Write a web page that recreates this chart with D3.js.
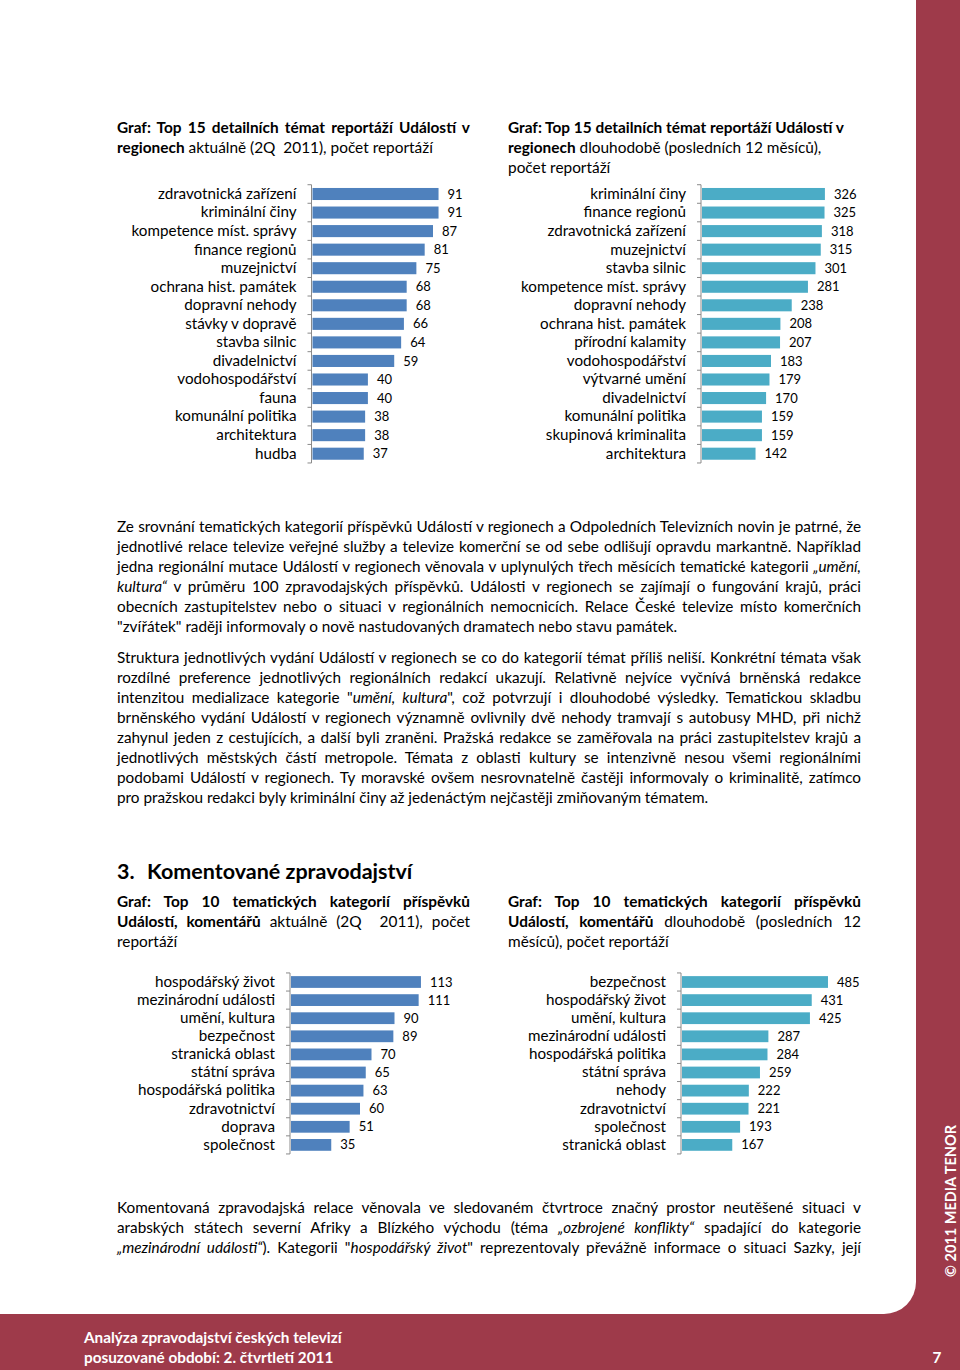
<!DOCTYPE html>
<html>
<head>
<meta charset="utf-8">
<script src="https://cdn.jsdelivr.net/npm/d3@7"></script>
<style>
body { margin: 0; background: #fff; }
#page { position: relative; width: 960px; height: 1370px; overflow: hidden;
        font-family: Lato, "Open Sans", sans-serif; color: #000; }
#page svg { position: absolute; left: 0; top: 0; }
.ln { position: absolute; white-space: nowrap; font-size: 15.3px; line-height: 20px; }
.j { text-align: justify; text-align-last: justify; }
.t { font-size: 15.4px; }
</style>
</head>
<body>
<div id="page"></div>
<script>
//data - chart 1 (aktuálně)
const topics1 = ["zdravotnická zařízení", "kriminální činy", "kompetence míst. správy", "finance regionů",
    "muzejnictví", "ochrana hist. památek", "dopravní nehody", "stávky v dopravě", "stavba silnic",
    "divadelnictví", "vodohospodářství", "fauna", "komunální politika", "architektura", "hudba"];
const counts1 = [91, 91, 87, 81, 75, 68, 68, 66, 64, 59, 40, 40, 38, 38, 37];

//chart 2 (dlouhodobě)
const topics2 = ["kriminální činy", "finance regionů", "zdravotnická zařízení", "muzejnictví", "stavba silnic",
    "kompetence míst. správy", "dopravní nehody", "ochrana hist. památek", "přírodní kalamity",
    "vodohospodářství", "výtvarné umění", "divadelnictví", "komunální politika", "skupinová kriminalita",
    "architektura"];
const counts2 = [326, 325, 318, 315, 301, 281, 238, 208, 207, 183, 179, 170, 159, 159, 142];

//chart 3 (komentáře aktuálně)
const cats3 = ["hospodářský život", "mezinárodní události", "umění, kultura", "bezpečnost", "stranická oblast",
    "státní správa", "hospodářská politika", "zdravotnictví", "doprava", "společnost"];
const counts3 = [113, 111, 90, 89, 70, 65, 63, 60, 51, 35];

//chart 4 (komentáře dlouhodobě)
const cats4 = ["bezpečnost", "hospodářský život", "umění, kultura", "mezinárodní události", "hospodářská politika",
    "státní správa", "nehody", "zdravotnictví", "společnost", "stranická oblast"];
const counts4 = [485, 431, 425, 287, 284, 259, 222, 221, 193, 167];

//texts
const title1 = ["<b>Graf: Top 15 detailních témat reportáží Událostí v</b>",
    "<b>regionech</b> aktuálně (2Q&nbsp; 2011), počet reportáží"];
const title2 = ["<b>Graf: Top 15 detailních témat reportáží Událostí v</b>",
    "<b>regionech</b> dlouhodobě (posledních 12 měsíců),", "počet reportáží"];
const title3 = ["<b>Graf: Top 10 tematických kategorií příspěvků</b>",
    "<b>Událostí, komentářů</b> aktuálně (2Q&nbsp; 2011), počet", "reportáží"];
const title4 = ["<b>Graf: Top 10 tematických kategorií příspěvků</b>",
    "<b>Událostí, komentářů</b> dlouhodobě (posledních 12", "měsíců), počet reportáží"];

const para1 = [
    "Ze srovnání tematických kategorií příspěvků Událostí v regionech a Odpoledních Televizních novin je patrné, že",
    "jednotlivé relace televize veřejné služby a televize komerční se od sebe odlišují opravdu markantně. Například",
    "jedna regionální mutace Událostí v regionech věnovala v uplynulých třech měsících tematické kategorii <i>„umění,</i>",
    "<i>kultura“</i> v průměru 100 zpravodajských příspěvků. Události v regionech se zajímají o fungování krajů, práci",
    "obecních zastupitelstev nebo o situaci v regionálních nemocnicích. Relace České televize místo komerčních",
    "\"zvířátek\" raději informovaly o nově nastudovaných dramatech nebo stavu památek."];
const para2 = [
    "Struktura jednotlivých vydání Událostí v regionech se co do kategorií témat příliš neliší. Konkrétní témata však",
    "rozdílné preference jednotlivých regionálních redakcí ukazují. Relativně nejvíce vyčnívá brněnská redakce",
    "intenzitou medializace kategorie \"<i>umění, kultura</i>\", což potvrzují i dlouhodobé výsledky. Tematickou skladbu",
    "brněnského vydání Událostí v regionech významně ovlivnily dvě nehody tramvají s autobusy MHD, při nichž",
    "zahynul jeden z cestujících, a další byli zraněni. Pražská redakce se zaměřovala na práci zastupitelstev krajů a",
    "jednotlivých městských částí metropole. Témata z oblasti kultury se intenzivně nesou všemi regionálními",
    "podobami Událostí v regionech. Ty moravské ovšem nesrovnatelně častěji informovaly o kriminalitě, zatímco",
    "pro pražskou redakci byly kriminální činy až jedenáctým nejčastěji zmiňovaným tématem."];
const para3 = [
    "Komentovaná zpravodajská relace věnovala ve sledovaném čtvrtroce značný prostor neutěšené situaci v",
    "arabských státech severní Afriky a Blízkého východu (téma <i>„ozbrojené konflikty“</i> spadající do kategorie",
    "<i>„mezinárodní události“</i>). Kategorii \"<i>hospodářský život</i>\" reprezentovaly převážně informace o situaci Sazky, její"];

const width = 960;
const height = 1370;
const red = "#9e3a4a";

const page = d3.select("#page");
const svg = page.append("svg").attr("width", width).attr("height", height);

//frame
svg.append("rect").attr("width", width).attr("height", height).attr("fill", red);
const r = 32;
svg.append("path")
    .attr("d", `M0,0 H916 V${1314 - r} A${r},${r} 0 0 1 ${916 - r},1314 H0 Z`)
    .attr("fill", "#fff");

//footer
const foot = svg.append("g").attr("fill", "#fff").attr("font-weight", "bold")
    .attr("font-family", "Lato, sans-serif").attr("font-size", 15.3);
foot.append("text").attr("x", 84).attr("y", 1343).text("Analýza zpravodajství českých televizí");
foot.append("text").attr("x", 84).attr("y", 1363).text("posuzované období: 2. čtvrtletí 2011");
foot.append("text").attr("x", 937).attr("y", 1363).attr("text-anchor", "middle").text("7");
foot.append("text").attr("transform", "translate(956,1201) rotate(-90)")
    .attr("text-anchor", "middle").attr("font-size", 14.5).text("© 2011 MEDIA TENOR");

//bar charts
function drawChart(cats, vals, o) {
    const n = cats.length;
    const yScale = d3.scaleBand()
        .domain(cats)
        .range([o.c0 - o.step / 2, o.c0 + (n - 0.5) * o.step])
        .paddingInner(0.35)
        .paddingOuter(0.175);
    const xScale = d3.scaleLinear()
        .domain([0, o.max])
        .range([o.axisX + 1, o.axisX + 1 + o.ppu * o.max]);

    const g = svg.append("g");

    g.selectAll("rect")
        .data(vals)
        .enter()
        .append("rect")
        .attr("x", xScale(0))
        .attr("y", (d, i) => yScale(cats[i]))
        .attr("width", d => xScale(d) - xScale(0))
        .attr("height", yScale.bandwidth())
        .attr("fill", o.color);

    g.selectAll(".val")
        .data(vals)
        .enter()
        .append("text")
        .attr("class", "val")
        .attr("x", d => xScale(d) + 9)
        .attr("y", (d, i) => yScale(cats[i]) + yScale.bandwidth() / 2)
        .attr("dy", "0.35em")
        .attr("font-family", "Lato, sans-serif")
        .attr("font-size", 13)
        .text(d => d);

    //category labels via axis
    const leftAxis = d3.axisLeft(yScale).tickSize(0).tickPadding(15);
    const ax = g.append("g")
        .attr("transform", "translate(" + o.axisX + ",0)")
        .call(leftAxis);
    ax.select(".domain").remove();
    ax.attr("font-family", "Lato, sans-serif").attr("font-size", 15.2);
    ax.selectAll("text").attr("fill", "#000");

    //axis line with ticks between categories
    const [r0, r1] = yScale.range();
    g.append("line")
        .attr("x1", o.axisX).attr("x2", o.axisX)
        .attr("y1", r0).attr("y2", r1)
        .attr("stroke", "#8a8a8a");
    g.selectAll(".tk")
        .data(d3.range(n + 1))
        .enter()
        .append("line")
        .attr("x1", o.axisX - 4).attr("x2", o.axisX)
        .attr("y1", i => r0 + i * yScale.step())
        .attr("y2", i => r0 + i * yScale.step())
        .attr("stroke", "#8a8a8a");
}

drawChart(topics1, counts1, { axisX: 311.5, c0: 194, step: 18.55, max: 100, ppu: 1.385, color: "#4f81bd" });
drawChart(topics2, counts2, { axisX: 701, c0: 194, step: 18.55, max: 350, ppu: 0.377, color: "#4bacc6" });
drawChart(cats3, counts3, { axisX: 290, c0: 982, step: 18.1, max: 120, ppu: 1.15, color: "#4f81bd" });
drawChart(cats4, counts4, { axisX: 681, c0: 982, step: 18.1, max: 500, ppu: 0.301, color: "#4bacc6" });

//text lines
function addLine(x, top, w, html, justify, cls) {
    const div = page.append("div").attr("class", "ln" + (cls ? " " + cls : ""))
        .style("left", x + "px").style("top", top + "px").style("width", w + "px");
    const span = div.append("span").html(html);
    const nat = span.node().getBoundingClientRect().width;
    if (nat > w) {
        div.style("letter-spacing", ((w - nat) / span.text().length) + "px");
    }
    if (justify) div.classed("j", true);
}

function addBlock(x, top, w, lines, justifyLast, justifyFlags, cls) {
    lines.forEach((l, i) => {
        const j = justifyFlags ? justifyFlags[i] : (i < lines.length - 1 || justifyLast);
        addLine(x, top + i * 20, w, l, j, cls);
    });
}

addBlock(117, 117, 353, title1, false, [true, false], "t");
addBlock(508, 117, 353, title2, false, [false, false, false], "t");
addBlock(117, 891, 353, title3, false, [true, true, false], "t");
addBlock(508, 891, 353, title4, false, [true, true, false], "t");

addBlock(117, 516, 744, para1, false);
addBlock(117, 647, 744, para2, false);
addBlock(117, 1197, 744, para3, true);

//section heading
page.append("div").attr("class", "ln")
    .style("left", "117px").style("top", "858px")
    .style("font-size", "21.5px").style("line-height", "26px").style("font-weight", "bold")
    .text("3.");
page.append("div").attr("class", "ln")
    .style("left", "147px").style("top", "858px")
    .style("font-size", "21.5px").style("line-height", "26px").style("font-weight", "bold")
    .text("Komentované zpravodajství");
</script>
</body>
</html>
